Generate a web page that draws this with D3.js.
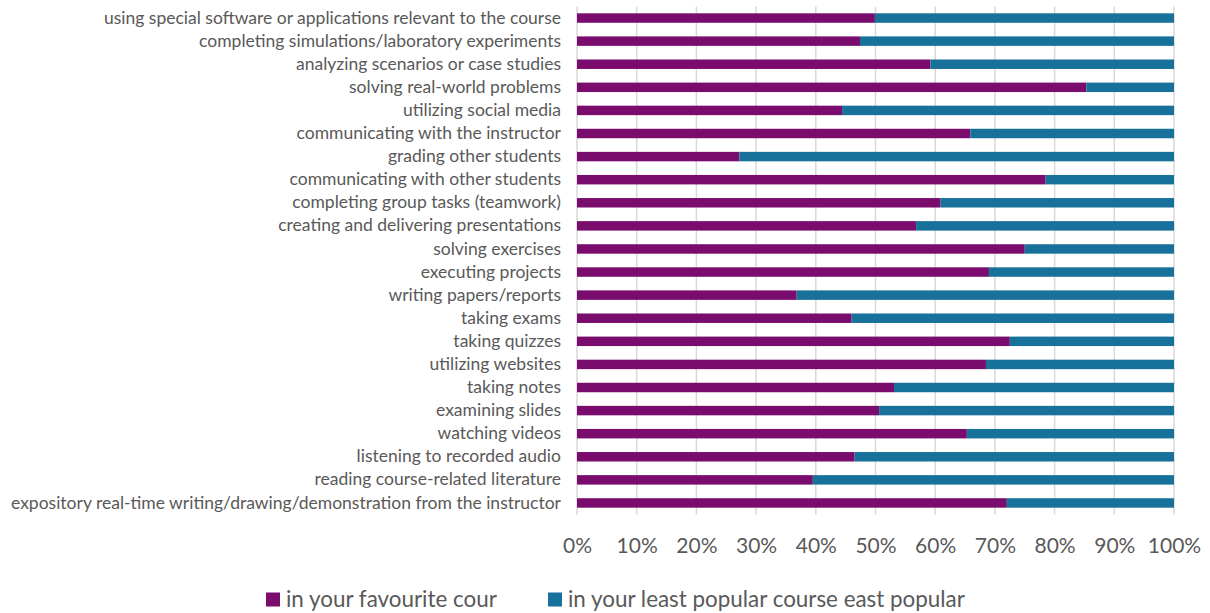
<!DOCTYPE html>
<html>
<head>
<meta charset="utf-8">
<script src="https://cdn.jsdelivr.net/npm/d3@7"></script>
<style>
  html, body { margin: 0; padding: 0; background: #fff; }
  svg { display: block; }
  text { font-family: Lato, "Open Sans", sans-serif; fill: #595959; }
</style>
</head>
<body>
<svg id="chart" width="1210" height="613"></svg>
<script>
// Activities, top to bottom
const categories = [
  "using special software or applications relevant to the course",
  "completing simulations/laboratory experiments",
  "analyzing scenarios or case studies",
  "solving real-world problems",
  "utilizing social media",
  "communicating with the instructor",
  "grading other students",
  "communicating with other students",
  "completing group tasks (teamwork)",
  "creating and delivering presentations",
  "solving exercises",
  "executing projects",
  "writing papers/reports",
  "taking exams",
  "taking quizzes",
  "utilizing websites",
  "taking notes",
  "examining slides",
  "watching videos",
  "listening to recorded audio",
  "reading course-related literature",
  "expository real-time writing/drawing/demonstration from the instructor"
];

// Share of responses (%) per activity
const favourite = [49.9, 47.4, 59.2, 85.3, 44.4, 65.9, 27.2, 78.5, 60.9, 56.8, 75.0,
                   69.0, 36.8, 46.0, 72.5, 68.5, 53.1, 50.6, 65.3, 46.5, 39.5, 72.0];
const leastPopular = favourite.map(v => +(100 - v).toFixed(1));

const seriesNames = ["in your favourite cour", "in your least popular course east popular"];
const seriesColors = ["#7A0C6E", "#18719A"];
const tickValues = [0, 0.1, 0.2, 0.3, 0.4, 0.5, 0.6, 0.7, 0.8, 0.9, 1.0];

const svg = d3.select("#chart");

const rows = categories.map((c, i) => ({ category: c, fav: favourite[i], least: leastPopular[i] }));
const stack = d3.stack().keys(["fav", "least"]).offset(d3.stackOffsetExpand);
const layers = stack(rows);

const x = d3.scaleLinear().domain([0, 1]).range([577, 1174]);
const y = d3.scaleBand().domain(categories).range([6.5, 514.5])
  .paddingInner(0.59).paddingOuter(0.295);

// vertical gridlines
svg.append("g").selectAll("line").data(tickValues).join("line")
  .attr("x1", d => x(d)).attr("x2", d => x(d))
  .attr("y1", 6.5).attr("y2", 514.5)
  .attr("stroke", "#d9d9d9").attr("stroke-width", 1.5);

// stacked bars
svg.append("g").selectAll("g").data(layers).join("g")
  .attr("fill", (d, i) => seriesColors[i])
  .selectAll("rect").data(d => d).join("rect")
  .attr("x", d => x(d[0]))
  .attr("width", d => x(d[1]) - x(d[0]))
  .attr("y", d => y(d.data.category))
  .attr("height", y.bandwidth());

// category labels
const yAxis = svg.append("g").attr("transform", "translate(577,0)")
  .call(d3.axisLeft(y).tickSize(0).tickPadding(16));
yAxis.select(".domain").remove();
yAxis.selectAll("text")
  .style("font-family", "Lato, 'Open Sans', sans-serif")
  .style("font-size", "17.5px").attr("fill", "#595959");

// percentage axis
const xAxis = svg.append("g").attr("transform", "translate(0,540)")
  .call(d3.axisBottom(x).tickValues(tickValues).tickFormat(d3.format(".0%")).tickSize(0).tickPadding(0));
xAxis.select(".domain").remove();
xAxis.selectAll("text")
  .attr("dy", "0.35em").attr("y", 6)
  .style("font-family", "Lato, 'Open Sans', sans-serif")
  .style("font-size", "21px").attr("fill", "#595959");

// legend
const legendX = [266, 548];
const legend = svg.append("g").selectAll("g").data(seriesNames).join("g")
  .attr("transform", (d, i) => `translate(${legendX[i]},592.5)`);
legend.append("rect").attr("width", 14).attr("height", 14)
  .attr("fill", (d, i) => seriesColors[i]);
legend.append("text").attr("x", 20).attr("y", 7).attr("dy", "0.35em")
  .style("font-size", "22.4px").text(d => d);
</script>
</body>
</html>
